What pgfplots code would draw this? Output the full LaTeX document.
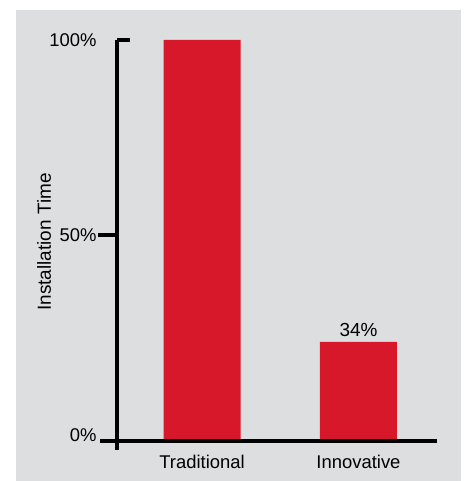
\documentclass[border=0pt]{standalone}
\usepackage{pgfplots}
\pgfplotsset{compat=1.18}
\usepackage{fontspec}
\setmainfont{Liberation Sans}
\definecolor{bg}{HTML}{DCDEE0}
\definecolor{barred}{HTML}{D7182A}
\begin{document}
\begin{tikzpicture}[x=1bp,y=1bp]
\fill[white] (0,0) rectangle (467,481);
\fill[bg] (16,0) rectangle (461,471);
\begin{axis}[
  at={(100bp,40bp)}, anchor=south west,
  scale only axis, width=337bp, height=401bp,
  xmin=-0.652, xmax=1.502, ymin=0, ymax=100,
  axis line style={draw=none},
  clip=false,
  major tick length=0pt,
  xtick={0,1}, xticklabels={Traditional,Innovative},
  ytick={1.5,51.4,100}, yticklabels={0\%,50\%,100\%},
  tick label style={font=\fontsize{18.5}{21}\selectfont},
  xticklabel style={yshift=-11bp},
  ybar, bar width=77bp,
  nodes near coords,
  point meta=explicit symbolic,
  every node near coord/.style={font=\fontsize{19}{22}\selectfont, yshift=2bp},
]
\addplot[fill=barred, draw=none] coordinates {(0,100) [] (1,24.7) [34\%]};
\draw[line width=4bp] (axis cs:-0.652,0) -- (axis cs:1.502,0);
\draw[line width=4bp] (axis cs:-0.543,-2.2) -- (axis cs:-0.543,100);
\draw[line width=4bp] (axis cs:-0.543,100) -- (axis cs:-0.46,100);
\draw[line width=4bp] (axis cs:-0.665,51.4) -- (axis cs:-0.543,51.4);
\end{axis}
\node[rotate=90, font=\fontsize{19}{22}\selectfont] at (44,239) {Installation Time};
\end{tikzpicture}
\end{document}
